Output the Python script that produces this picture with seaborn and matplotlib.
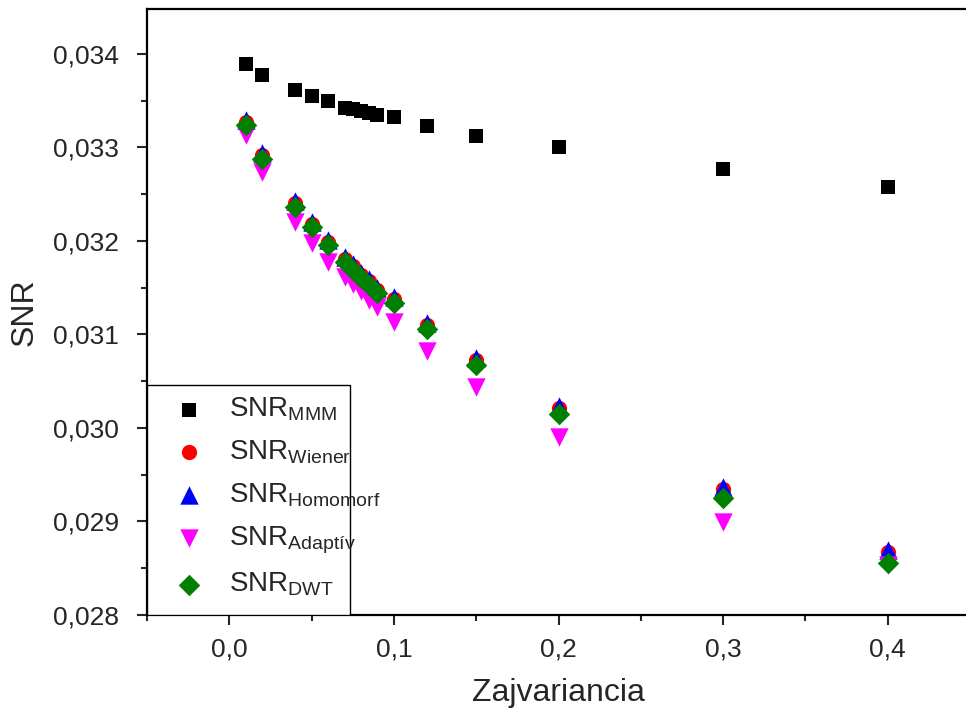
import matplotlib
matplotlib.use("Agg")
import matplotlib.pyplot as plt
from matplotlib.ticker import MultipleLocator, FuncFormatter
from matplotlib.patches import Rectangle
import seaborn as sns

# noise variance levels
zajvariancia = [0.01, 0.02, 0.04, 0.05, 0.06, 0.07, 0.075, 0.08, 0.085, 0.09,
                0.10, 0.12, 0.15, 0.20, 0.30, 0.40]

snr_mmm = [0.03389, 0.03378, 0.03361, 0.03355, 0.03350, 0.03342, 0.03341, 0.03339,
           0.03337, 0.03335, 0.03333, 0.03323, 0.03312, 0.03301, 0.03277, 0.03258]
snr_wiener = [0.03327, 0.03292, 0.03241, 0.03218, 0.03199, 0.03181, 0.03173, 0.03164,
              0.03157, 0.03148, 0.03138, 0.03110, 0.03073, 0.03021, 0.02935, 0.02867]
snr_homomorf = [0.03329, 0.03294, 0.03243, 0.03220, 0.03201, 0.03183, 0.03175, 0.03166,
                0.03159, 0.03150, 0.03140, 0.03112, 0.03075, 0.03023, 0.02937, 0.02869]
snr_adaptiv = [0.03313, 0.03274, 0.03220, 0.03198, 0.03178, 0.03161, 0.03154, 0.03147,
               0.03137, 0.03129, 0.03113, 0.03082, 0.03044, 0.02990, 0.02899, 0.02853]
snr_dwt = [0.03324, 0.03288, 0.03236, 0.03215, 0.03196, 0.03178, 0.03169, 0.03160,
           0.03153, 0.03144, 0.03134, 0.03106, 0.03067, 0.03015, 0.02925, 0.02856]

series_labels = [r"SNR$_{\mathrm{MMM}}$", r"SNR$_{\mathrm{Wiener}}$",
                 r"SNR$_{\mathrm{Homomorf}}$", r"SNR$_{\mathrm{Adaptív}}$",
                 r"SNR$_{\mathrm{DWT}}$"]
x_label = "Zajvariancia"
y_label = "SNR"

sns.set_style("ticks")
plt.rcParams["font.family"] = ["Liberation Sans", "DejaVu Sans"]
plt.rcParams["mathtext.fontset"] = "custom"
plt.rcParams["mathtext.rm"] = "Liberation Sans"
plt.rcParams["mathtext.it"] = "Liberation Sans:italic"
plt.rcParams["mathtext.bf"] = "Liberation Sans:bold"

fig = plt.figure(figsize=(9.66, 7.15), dpi=100)
ax = fig.add_axes([147 / 966, 100 / 715, 823 / 966, 606 / 715])

styles = [
    (snr_mmm, "s", "#000000", 105),
    (snr_wiener, "o", "#ff0000", 120),
    (snr_homomorf, "^", "#0000ff", 175),
    (snr_adaptiv, "v", "#ff00ff", 175),
    (snr_dwt, "D", "#008000", 120),
]
for (vals, marker, color, size), label in zip(styles, series_labels):
    sns.scatterplot(x=zajvariancia, y=vals, marker=marker, color=color, s=size,
                    linewidth=0, label=label, ax=ax, zorder=3)

ax.set_xlim(-0.05, 0.45)
ax.set_ylim(0.028, 0.034481)

ax.xaxis.set_major_locator(MultipleLocator(0.1))
ax.xaxis.set_minor_locator(MultipleLocator(0.05))
ax.yaxis.set_major_locator(MultipleLocator(0.001))
ax.yaxis.set_minor_locator(MultipleLocator(0.0005))
ax.xaxis.set_major_formatter(FuncFormatter(lambda v, p: f"{v:.1f}".replace(".", ",")))
ax.yaxis.set_major_formatter(FuncFormatter(lambda v, p: f"{v:.3f}".replace(".", ",")))

ax.tick_params(axis="both", which="major", direction="out", length=7, width=1.5,
               labelsize=19, top=False, right=False)
ax.tick_params(axis="both", which="minor", direction="out", length=4, width=1.5,
               top=False, right=False)
ax.tick_params(axis="y", which="major", pad=13)
ax.tick_params(axis="x", which="major", pad=9)

for side in ["left", "right", "top", "bottom"]:
    ax.spines[side].set_visible(True)
    ax.spines[side].set_linewidth(1.6)
    ax.spines[side].set_color("black")

ax.set_xlabel(x_label, fontsize=23, labelpad=12)
ax.set_ylabel(y_label, fontsize=23, labelpad=10)

# fixed-size legend box in the lower-left corner
box = Rectangle((0, 0), 203 / 823, 230 / 606, transform=ax.transAxes,
                facecolor="white", edgecolor="black", linewidth=1.0, zorder=4)
ax.add_patch(box)

leg = ax.legend(loc="lower left", bbox_to_anchor=(0.0, 0.0), borderaxespad=0,
                fontsize=20, frameon=False, labelspacing=0.55, handletextpad=0.55,
                borderpad=0.6, handlelength=1.8)
leg.set_zorder(5)

fig.savefig("out.png", dpi=100)
